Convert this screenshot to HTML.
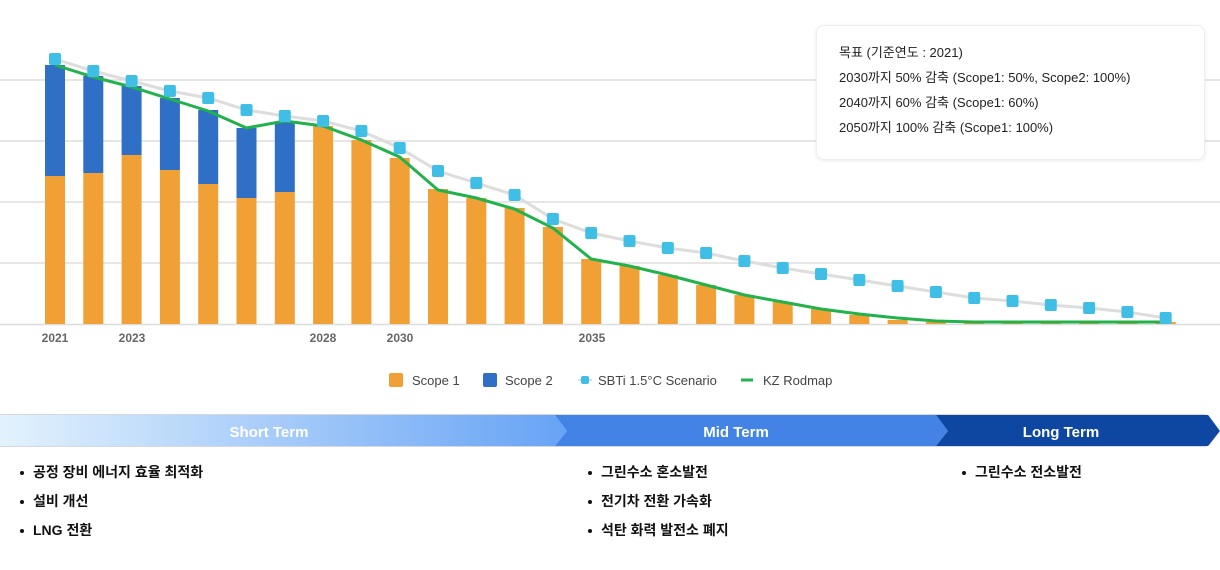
<!DOCTYPE html>
<html><head><meta charset="utf-8"><style>
body{margin:0;width:1220px;height:570px;background:#fff;overflow:hidden;font-family:"Liberation Sans","Noto Sans CJK KR",sans-serif;position:relative}
.tip{position:absolute;left:816px;top:25px;width:389px;height:135px;background:#fff;border:1px solid #eee;border-radius:8px;box-shadow:0 1px 4px rgba(0,0,0,.08);font-size:13px;color:#222;box-sizing:border-box;padding:14px 0 0 22px;line-height:25px}
.li{position:absolute;font-size:14px;font-weight:bold;color:#111}
.li:before{content:"";position:absolute;left:-13px;top:9px;width:4px;height:4px;border-radius:2px;background:#111}
</style></head><body>
<svg width="1220" height="570" style="position:absolute;left:0;top:0">
<g stroke="#ddd" stroke-width="1.5"><line x1="0" x2="1220" y1="80" y2="80"/><line x1="0" x2="1220" y1="141" y2="141"/><line x1="0" x2="1220" y1="202" y2="202"/><line x1="0" x2="1220" y1="263" y2="263"/><line x1="0" x2="1220" y1="324.5" y2="324.5"/></g>
<g id="bars"></g>
<polyline id="sb" fill="none" stroke="#ddd" stroke-width="3"/>
<polyline id="kz" fill="none" stroke="#22b24c" stroke-width="3"/>
<g id="mk" fill="#3fbfe6"></g>
<g font-size="12" font-weight="bold" fill="#666" text-anchor="middle">
<text x="55" y="342">2021</text><text x="132" y="342">2023</text><text x="323" y="342">2028</text><text x="400" y="342">2030</text><text x="592" y="342">2035</text></g>
<g font-size="13" fill="#444">
<rect x="389" y="373" width="14" height="14" rx="2" fill="#f0a035"/><text x="412" y="385">Scope 1</text>
<rect x="483" y="373" width="14" height="14" rx="2" fill="#2f6fc6"/><text x="505" y="385">Scope 2</text>
<line x1="578" x2="592" y1="380" y2="380" stroke="#ddd" stroke-width="2"/><rect x="581" y="376" width="8" height="8" rx="2" fill="#3fbfe6"/><text x="598" y="385">SBTi 1.5°C Scenario</text>
<line x1="741" x2="753" y1="380" y2="380" stroke="#22b24c" stroke-width="3"/><text x="763" y="385">KZ Rodmap</text></g>
<defs><linearGradient id="g1" x1="0" x2="1"><stop offset="0" stop-color="#e3f2fd"/><stop offset="1" stop-color="#67a3f5"/></linearGradient></defs>
<rect x="0" y="414" width="1220" height="33" fill="#d4d8de"/>
<polygon points="0,415 555,415 567,431 555,446 0,446" fill="url(#g1)"/>
<polygon points="555,415 936,415 948,431 936,446 555,446 567,431" fill="#4383e6"/>
<polygon points="936,415 1208,415 1220,431 1208,446 936,446 948,431" fill="#0e47a1"/>
<rect x="1206" y="413" width="14" height="2" fill="#fff"/><rect x="1206" y="446" width="14" height="2" fill="#fff"/>
<polygon points="1208,414 1220,414 1220,431" fill="#fff"/><polygon points="1208,447 1220,447 1220,431" fill="#fff"/>
<g font-size="15" font-weight="bold" fill="#fff" text-anchor="middle"><text x="269" y="437">Short Term</text><text x="736" y="437">Mid Term</text><text x="1061" y="437">Long Term</text></g>
</svg>
<div class="tip">목표 (기준연도 : 2021)<br>2030까지 50% 감축 (Scope1: 50%, Scope2: 100%)<br>2040까지 60% 감축 (Scope1: 60%)<br>2050까지 100% 감축 (Scope1: 100%)</div>
<div class="li" style="left:33px;top:462px">공정 장비 에너지 효율 최적화</div>
<div class="li" style="left:33px;top:491px">설비 개선</div>
<div class="li" style="left:33px;top:520px">LNG 전환</div>
<div class="li" style="left:601px;top:462px">그린수소 혼소발전</div>
<div class="li" style="left:601px;top:491px">전기차 전환 가속화</div>
<div class="li" style="left:601px;top:520px">석탄 화력 발전소 폐지</div>
<div class="li" style="left:975px;top:462px">그린수소 전소발전</div>
<script>
var blue=[65,76,86,98,110,128,122];
var org=[176,173,155,170,184,198,192,126,140,158,189,198,208,227,259,266,275,285,295,302,309,315,320,322,322,322,322,322,322,322];
var sb=[59,71,81,91,98,110,116,121,131,148,171,183,195,219,233,241,248,253,261,268,274,280,286,292,298,301,305,308,312,318];
var kz=[65,77,87,99,111,128,121,126,140,157,190,198,209,228,259,266,275,285,295,302,309,314,318,321,322,322,322,322,322,322];
var b=document.getElementById('bars'),m=document.getElementById('mk'),h='',mh='',ps='',pk='';
for(var i=0;i<30;i++){var x=55+i*38.3;
if(i<7)h+='<rect x="'+(x-10)+'" y="'+blue[i]+'" width="20" height="'+(org[i]-blue[i])+'" fill="#2f6fc6"/>';
h+='<rect x="'+(x-10)+'" y="'+org[i]+'" width="20" height="'+(324-org[i])+'" fill="#f0a035"/>';
mh+='<rect x="'+(x-6)+'" y="'+(sb[i]-6)+'" width="12" height="12" rx="2"/>';
ps+=x+','+sb[i]+' ';pk+=x+','+kz[i]+' ';}
b.innerHTML=h;m.innerHTML=mh;
document.getElementById('sb').setAttribute('points',ps);document.getElementById('kz').setAttribute('points',pk);
</script>
</body></html>
